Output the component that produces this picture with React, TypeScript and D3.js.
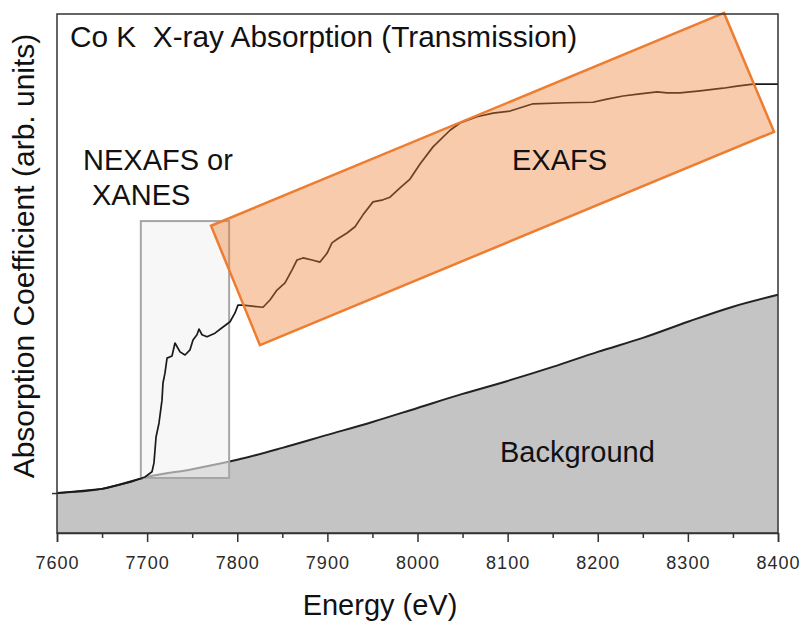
import React, { useEffect, useRef } from "react";
import * as d3 from "d3";

const WIDTH = 801;
const HEIGHT = 623;

// Energy axis ticks (eV)
const majorTicks = [7600, 7700, 7800, 7900, 8000, 8100, 8200, 8300, 8400];
const minorTicks = [7650, 7750, 7850, 7950, 8050, 8150, 8250, 8350];

// Background (pre-edge / substrate) absorption, arb. units
const bgEnergy = [7600, 7650, 7700, 7750, 7800, 7850, 7900, 7950, 8000, 8050, 8100, 8150, 8200, 8250, 8300, 8350, 8400];
const bgValue = [0.077, 0.085, 0.108, 0.123, 0.141, 0.164, 0.189, 0.214, 0.241, 0.268, 0.293, 0.32, 0.349, 0.376, 0.407, 0.436, 0.459];

// Measured Co K-edge absorption, arb. units
const muEnergy = [
  7600, 7650, 7681, 7697.6, 7705.4, 7707.6, 7709.9, 7713.2, 7716.5, 7717.6, 7719.8, 7722.1, 7727.6, 7730.9,
  7736.5, 7742, 7747.6, 7750.9, 7755.3, 7757.6, 7760.9, 7766.4, 7775.3, 7784.2, 7792, 7797.5, 7800.8, 7806.4,
  7816.4, 7828.6, 7836.3, 7844.1, 7853, 7860.8, 7866.3, 7873, 7883, 7891.8, 7899.6, 7905.1, 7910.7, 7921.8,
  7930.7, 7939.5, 7950.6, 7961.7, 7969.5, 7980.6, 7991.7, 8002.8, 8017.2, 8036.1, 8047.2, 8066, 8083.8, 8102.7,
  8128.2, 8165.9, 8194.7, 8210.3, 8228, 8246.9, 8265.8, 8276.9, 8291.3, 8313.5, 8339, 8354.5, 8372.3, 8400,
];
const muValue = [
  0.077, 0.085, 0.098, 0.108, 0.118, 0.135, 0.185, 0.212, 0.256, 0.289, 0.308, 0.337, 0.341, 0.366,
  0.349, 0.343, 0.353, 0.372, 0.382, 0.393, 0.382, 0.378, 0.385, 0.397, 0.407, 0.424, 0.439, 0.439,
  0.437, 0.435, 0.449, 0.468, 0.482, 0.507, 0.526, 0.53, 0.526, 0.522, 0.539, 0.559, 0.566, 0.578,
  0.59, 0.613, 0.638, 0.642, 0.647, 0.665, 0.682, 0.711, 0.744, 0.776, 0.79, 0.802, 0.809, 0.813,
  0.827, 0.829, 0.83, 0.836, 0.842, 0.846, 0.85, 0.848, 0.848, 0.852, 0.857, 0.861, 0.865, 0.865,
];

// Region annotations (data coordinates)
const xanesBoxEnergy = [7693, 7791];
const xanesBoxValue = [0.106, 0.601];
const exafsCornerEnergy = [7770.9, 8340.1, 8395.6, 7825.2];
const exafsCornerValue = [0.592, 1.002, 0.773, 0.362];

const FONT = "'Liberation Sans', Arial, sans-serif";

export default function App() {
  const ref = useRef<SVGSVGElement | null>(null);

  useEffect(() => {
    const svg = d3.select(ref.current);
    svg.selectAll("*").remove();

    const left = 57, right = 778, top = 14, bottom = 533;
    const x = d3.scaleLinear().domain([7600, 8400]).range([left, right]);
    const y = d3.scaleLinear().domain([0, 1]).range([bottom, bottom - 519]);

    const bg = bgEnergy.map((e, i) => [e, bgValue[i]] as [number, number]);
    const mu = muEnergy.map((e, i) => [e, muValue[i]] as [number, number]);

    // background area
    const area = d3.area<[number, number]>()
      .x((d) => x(d[0]))
      .y0(y(0))
      .y1((d) => y(d[1]))
      .curve(d3.curveMonotoneX);
    svg.append("path").datum(bg).attr("d", area).attr("fill", "#c4c4c4");

    const bgLine = d3.line<[number, number]>().x((d) => x(d[0])).y((d) => y(d[1])).curve(d3.curveMonotoneX);
    svg.append("path").datum(bg).attr("d", bgLine).attr("fill", "none").attr("stroke", "#222").attr("stroke-width", 2);

    // XANES box
    svg.append("rect")
      .attr("x", x(xanesBoxEnergy[0]))
      .attr("y", y(xanesBoxValue[1]))
      .attr("width", x(xanesBoxEnergy[1]) - x(xanesBoxEnergy[0]))
      .attr("height", y(xanesBoxValue[0]) - y(xanesBoxValue[1]))
      .attr("fill", "#f2f2f2")
      .attr("fill-opacity", 0.6)
      .attr("stroke", "#a6a6a6")
      .attr("stroke-width", 2);

    // absorption curve
    const muLine = d3.line<[number, number]>().x((d) => x(d[0])).y((d) => y(d[1]));
    svg.append("path").datum(mu).attr("d", muLine).attr("fill", "none").attr("stroke", "#1a1a1a").attr("stroke-width", 1.7).attr("stroke-linejoin", "round");

    // EXAFS rotated box
    const corners = exafsCornerEnergy.map((e, i) => [x(e), y(exafsCornerValue[i])]);
    svg.append("polygon")
      .attr("points", corners.map((c) => c.join(",")).join(" "))
      .attr("fill", "#ed7d31")
      .attr("fill-opacity", 0.4)
      .attr("stroke", "#ed7d31")
      .attr("stroke-width", 2.5)
      .attr("stroke-linejoin", "miter");

    // frame
    svg.append("rect")
      .attr("x", left).attr("y", top)
      .attr("width", right - left).attr("height", bottom - top)
      .attr("fill", "none").attr("stroke", "#333").attr("stroke-width", 1.5);

    // x axis
    const gx = svg.append("g").attr("transform", `translate(0,${bottom})`);
    gx.call(
      d3.axisBottom(x).tickValues(majorTicks).tickSize(9).tickPadding(14).tickFormat((d) => String(d))
    );
    gx.select(".domain").attr("stroke", "#333").attr("stroke-width", 1.5);
    gx.selectAll(".tick line").attr("stroke", "#333").attr("stroke-width", 1.5);
    gx.selectAll(".tick text")
      .attr("fill", "#2a2a2a")
      .style("font-family", FONT)
      .style("font-size", "18px")
      .style("letter-spacing", "1px");
    const gm = svg.append("g").attr("transform", `translate(0,${bottom})`);
    gm.call(d3.axisBottom(x).tickValues(minorTicks).tickSize(5).tickFormat(() => ""));
    gm.select(".domain").remove();
    gm.selectAll(".tick line").attr("stroke", "#333").attr("stroke-width", 1.5);

    const gy = svg.append("g").attr("transform", `translate(${left},0)`);
    gy.call(d3.axisLeft(y).tickValues([0.077]).tickSize(5).tickFormat(() => ""));
    gy.select(".domain").remove();
    gy.selectAll(".tick line").attr("stroke", "#333").attr("stroke-width", 1.5);

    const addText = (t: string, px: number, py: number, size: number, anchor = "start", rot = 0) => {
      svg.append("text")
        .attr("transform", `translate(${px},${py}) rotate(${rot})`)
        .attr("text-anchor", anchor)
        .attr("fill", "#111")
        .style("font-family", FONT)
        .style("font-size", `${size}px`)
        .style("white-space", "pre")
        .text(t);
    };

    addText("Co K  X-ray Absorption (Transmission)", 70, 47, 29.8);
    addText("NEXAFS or", 83, 170, 29);
    addText("XANES", 92, 205, 29);
    addText("EXAFS", 512, 170, 29);
    addText("Background", 500, 462, 29);
    addText("Energy (eV)", 380, 615, 29, "middle");
    addText("Absorption Coefficient (arb. units)", 34, 256, 30, "middle", -90);
  }, []);

  return (
    <div style={{ position: "absolute", left: 0, top: 0 }}>
      <svg ref={ref} width={WIDTH} height={HEIGHT} style={{ display: "block", background: "#fff" }} />
    </div>
  );
}
